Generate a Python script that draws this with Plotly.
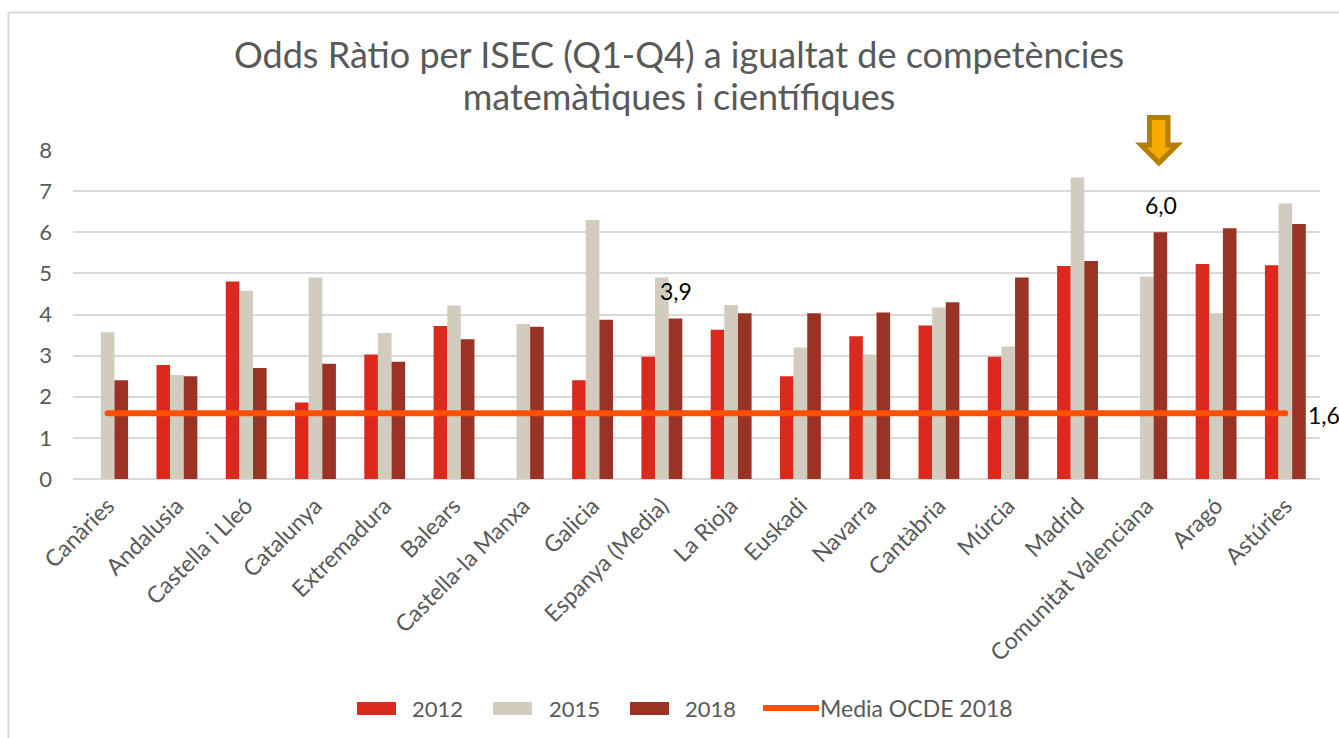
import plotly.graph_objects as go

categories = ["Canàries", "Andalusia", "Castella i Lleó", "Catalunya", "Extremadura", "Balears",
              "Castella-la Manxa", "Galicia", "Espanya (Media)", "La Rioja", "Euskadi", "Navarra",
              "Cantàbria", "Múrcia", "Madrid", "Comunitat Valenciana", "Aragó", "Astúries"]
values_2012 = [None, 2.77, 4.8, 1.86, 3.03, 3.72, None, 2.4, 2.97, 3.63, 2.5, 3.47, 3.73, 2.97, 5.18, None, 5.23, 5.2]
values_2015 = [3.57, 2.53, 4.58, 4.9, 3.55, 4.22, 3.77, 6.3, 4.9, 4.23, 3.2, 3.03, 4.17, 3.22, 7.33, 4.92, 4.03, 6.7]
values_2018 = [2.4, 2.5, 2.7, 2.8, 2.85, 3.4, 3.7, 3.87, 3.9, 4.03, 4.03, 4.05, 4.3, 4.9, 5.3, 6.0, 6.1, 6.2]
values_ocde = [1.6] * 18
series_names = ["2012", "2015", "2018", "Media OCDE 2018"]
title_text = "Odds Ràtio per ISEC (Q1-Q4) a igualtat de competències<br>matemàtiques i científiques"

W, H = 1339, 738
L, R, T, B = 73, 19, 150, 259
FONT = "Lato"
GREY = "#595959"
RED, BEIGE, BROWN, ORANGE = "#DC291E", "#D2CCBF", "#9A3324", "#FF4F00"


def px(x):
    return (x - L) / (W - L - R)


def py(y):
    return (H - B - y) / (H - T - B)


fig = go.Figure()
for name, vals, col in zip(series_names[:3], [values_2012, values_2015, values_2018], [RED, BEIGE, BROWN]):
    fig.add_bar(x=categories, y=vals, name=name, marker=dict(color=col, line_width=0), showlegend=False)
fig.add_scatter(x=categories, y=values_ocde, name=series_names[3], mode="lines",
                line=dict(color=ORANGE, width=6), showlegend=False)

shapes = [
    dict(type="line", xref="paper", yref="paper", x0=px(8.5), x1=px(8.5), y0=py(12.5), y1=py(745),
         line=dict(color="#D9D9D9", width=2), layer="below"),
    dict(type="line", xref="paper", yref="paper", x0=px(8.5), x1=px(1345), y0=py(12.5), y1=py(12.5),
         line=dict(color="#D9D9D9", width=2), layer="below"),
]

# down arrow marker above the Comunitat Valenciana group
arrow = [(1149.5, 117.5), (1168, 117.5), (1168, 145), (1177, 145), (1159, 163), (1141, 145), (1149.5, 145)]
path = "M" + " L".join(f"{px(a)},{py(b)}" for a, b in arrow) + " Z"
shapes.append(dict(type="path", xref="paper", yref="paper", path=path, fillcolor="#F5AB00",
                   line=dict(color="#B47F00", width=5)))

annotations = [
    dict(x="Espanya (Media)", y=values_2018[8], text="3,9", showarrow=False, yshift=28, xshift=14,
         font=dict(family=FONT, size=23, color="#000000")),
    dict(x="Comunitat Valenciana", y=values_2018[15], text="6,0", showarrow=False, yshift=27, xshift=14,
         font=dict(family=FONT, size=23, color="#000000")),
    dict(x="Astúries", y=values_ocde[17], text="1,6", showarrow=False, xanchor="left", xshift=21, yshift=-2,
         font=dict(family=FONT, size=23, color="#000000")),
]

# legend keys
legend_bar_x = [(357, 396, 410), (493, 532, 547), (630, 669, 683)]
for (x0, x1, tx), name, col in zip(legend_bar_x, series_names, [RED, BEIGE, BROWN]):
    shapes.append(dict(type="rect", xref="paper", yref="paper", x0=px(x0), x1=px(x1), y0=py(702), y1=py(715),
                       fillcolor=col, line_width=0))
    annotations.append(dict(xref="paper", yref="paper", x=px(tx), y=py(708), text=name, showarrow=False,
                            xanchor="left", yanchor="middle", font=dict(family=FONT, size=22, color=GREY)))
shapes.append(dict(type="line", xref="paper", yref="paper", x0=px(763), x1=px(819), y0=py(708), y1=py(708),
                   line=dict(color=ORANGE, width=6)))
annotations.append(dict(xref="paper", yref="paper", x=px(818), y=py(708), text=series_names[3], showarrow=False,
                        xanchor="left", yanchor="middle", font=dict(family=FONT, size=23, color=GREY)))

fig.update_layout(
    width=W, height=H, autosize=False,
    margin=dict(l=L, r=R, t=T, b=B, pad=0),
    paper_bgcolor="white", plot_bgcolor="white",
    barmode="group", bargap=0.41, bargroupgap=0,
    title=dict(text=title_text, x=679 / W, xanchor="center", y=1 - 68 / H, yanchor="middle",
               font=dict(family=FONT, size=36, color=GREY)),
    xaxis=dict(type="category", categoryorder="array", categoryarray=categories, range=[-0.5, 17.5],
               tickangle=-45, ticks="", showgrid=False, showline=False, zeroline=False, ticklabelstandoff=8,
               tickfont=dict(family=FONT, size=23, color=GREY)),
    yaxis=dict(range=[0, 8], tickvals=list(range(9)), ticks="", showline=False, ticklabelstandoff=20,
               gridcolor="#D9D9D9", gridwidth=2, zeroline=True, zerolinecolor="#D9D9D9", zerolinewidth=2,
               tickfont=dict(family=FONT, size=22, color=GREY), ticklen=0),
    shapes=shapes, annotations=annotations,
)

fig.write_html("out.html", config={"displayModeBar": False}, post_script="""
document.body.style.margin='0';document.body.style.overflow='hidden';
document.querySelectorAll('.scatterlayer .js-line').forEach(function(p){p.style.strokeLinecap='round';});
document.querySelectorAll('.gtitle tspan.line').forEach(function(t,i){if(i>0){t.setAttribute('y', parseFloat(t.getAttribute('y'))-5);}});
""")
